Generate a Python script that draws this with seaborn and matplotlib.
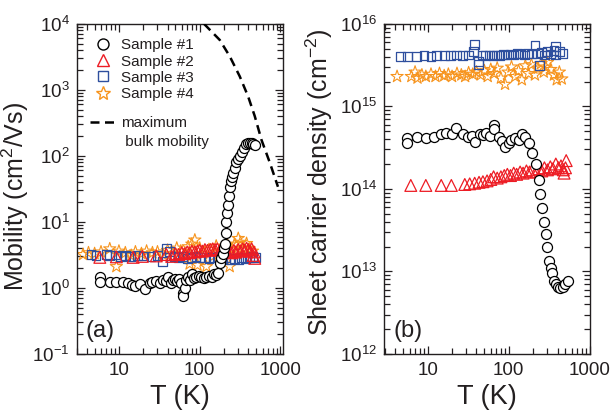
import numpy as np
import matplotlib
matplotlib.use("Agg")
import matplotlib.pyplot as plt
import matplotlib.ticker as mticker
from matplotlib.lines import Line2D
import seaborn as sns

# ======================================================
# DATA
# ======================================================

# (a) mobility, cm^2/Vs
t1_mu = [5.8, 5.8, 7.7, 9.3, 11.2, 13, 14.6, 16, 18, 21, 24, 26, 29, 32, 35,
         38, 41, 44, 47, 50, 53, 56, 59, 62, 62, 65, 68, 72, 75, 80, 85, 91,
         97, 104, 112, 121, 130, 140, 150, 160, 170, 177, 185, 192, 198, 204,
         209, 214, 219, 225, 231, 236, 242, 248, 259, 270, 285, 300, 313, 330,
         350, 379, 400, 420, 440, 460, 478]
mu1 = [1.48, 1.24, 1.23, 1.24, 1.24, 1.17, 1.1, 1.05, 1.15, 0.97, 1.17, 1.22,
       1.28, 1.2, 1.32, 1.25, 1.45, 1.2, 1.3, 1.38, 1.25, 1.35, 1.2, 0.83,
       0.74, 1.0, 1.3, 1.45, 1.31, 1.6, 1.4, 1.48, 1.5, 1.45, 1.4, 1.48, 1.5,
       1.45, 1.6, 1.55, 1.7, 2.4, 2.8, 3.3, 4.0, 4.7, 6.8, 10, 13.5, 18, 25,
       34, 42, 48, 55, 65, 80, 90, 98, 115, 130, 150, 155, 158, 155, 150, 145]

t2_mu = [5.8, 9.3, 15, 19.5, 29, 38.7, 45, 50, 55, 60, 65, 70, 75, 80, 87, 94,
         100, 108, 116, 125, 135, 145, 155, 165, 178, 190, 205, 220, 235, 250,
         265, 280, 300, 320, 340, 360, 380, 400, 420, 440, 458, 480, 470]
mu2 = [2.9, 2.95, 2.9, 3.0, 3.05, 3.2, 3.0, 3.3, 3.2, 3.4, 3.3, 3.5, 3.4, 3.6,
       3.5, 3.6, 3.7, 3.6, 3.8, 3.7, 3.8, 3.9, 3.8, 3.9, 3.7, 3.9, 3.8, 3.5,
       3.6, 3.4, 3.7, 3.5, 3.8, 3.6, 3.9, 3.7, 4.0, 3.8, 3.6, 3.9, 3.1, 2.8, 3.5]

t3_mu = [4.5, 5.2, 7, 7.6, 9, 10.5, 12, 14, 17, 20, 25, 30, 35, 38.7, 42, 48,
         55, 62, 70, 80, 90, 100, 115, 130, 150, 170, 190, 210, 240, 270, 300,
         330, 370, 410, 450, 490]
mu3 = [3.2, 3.1, 3.2, 3.1, 3.15, 3.0, 3.1, 3.0, 3.1, 3.05, 3.0, 3.1, 2.5, 3.9,
       3.6, 3.0, 2.9, 3.0, 2.8, 2.9, 3.0, 2.85, 2.9, 2.8, 2.9, 3.0, 2.8, 2.9,
       2.7, 2.8, 2.7, 2.9, 2.8, 2.9, 3.0, 2.85]

t4_mu = [3.6, 4.2, 5, 6, 7.7, 9.3, 10, 12, 14.2, 16, 19, 22, 26, 30, 35, 40,
         46, 52, 58, 65, 72, 75, 80, 87, 94, 100, 110, 121, 130, 145, 160, 180,
         200, 220, 235, 250, 270, 290, 300, 320, 350, 380, 410, 450]
mu4 = [3.2, 3.4, 3.3, 3.5, 3.9, 2.1, 3.6, 3.4, 3.1, 3.5, 3.3, 3.6, 3.4, 3.5,
       3.2, 3.7, 3.3, 4.0, 3.6, 3.2, 4.2, 2.3, 4.6, 5.3, 2.2, 4.0, 3.3, 2.1,
       3.8, 3.0, 4.3, 3.5, 3.2, 4.5, 2.1, 3.8, 4.6, 3.3, 5.6, 4.9, 4.0, 4.7,
       3.9, 3.6]

t_bulk = [113, 177, 236, 313, 398, 480, 582, 740, 930]
mu_bulk = [1e4, 5700, 3200, 1600, 790, 400, 174, 78, 34]

# (b) sheet carrier density, cm^-2
t1_n = [5.6, 5.6, 7.5, 9.5, 12, 14.7, 17, 20, 22.6, 27, 31, 35, 38, 44, 48,
        53, 58, 66, 66, 75, 82, 91, 100, 108, 120, 133, 146, 160, 178, 196,
        215, 236, 245, 260, 274, 286, 300, 315, 330, 345, 363, 380, 400, 430,
        460, 500, 535]
n1 = [4.1e14, 3.55e14, 4.2e14, 4.1e14, 4.2e14, 4.6e14, 4.7e14, 4.6e14, 5.5e14,
      4.6e14, 4.2e14, 4.4e14, 3.7e14, 4.6e14, 4.5e14, 4.8e14, 4.4e14, 5.9e14,
      5.3e14, 4.3e14, 3.8e14, 3.2e14, 3.6e14, 3.9e14, 4.1e14, 3.9e14, 4.6e14,
      4.3e14, 3.55e14, 2.7e14, 2.0e14, 1.27e14, 8.7e13, 5.8e13, 4.0e13,
      2.8e13, 2.0e13, 1.35e13, 1.1e13, 9.5e12, 7.7e12, 7e12, 6.4e12, 6.2e12,
      6.5e12, 7e12, 7.7e12]

t2_n = [6.2, 9.5, 14.7, 19.6, 28.7, 33, 38, 43, 48, 54, 60, 65, 72, 80, 88, 96,
        105, 115, 125, 138, 150, 165, 180, 195, 215, 235, 255, 275, 300, 325,
        350, 380, 410, 440, 470, 510, 500, 480]
n2 = [1.1e14, 1.1e14, 1.1e14, 1.1e14, 1.13e14, 1.15e14, 1.17e14, 1.2e14,
      1.22e14, 1.25e14, 1.3e14, 1.4e14, 1.35e14, 1.4e14, 1.45e14, 1.5e14,
      1.45e14, 1.55e14, 1.5e14, 1.6e14, 1.55e14, 1.65e14, 1.6e14, 1.7e14,
      1.6e14, 1.75e14, 1.65e14, 1.8e14, 1.7e14, 1.85e14, 1.75e14, 2.0e14,
      1.8e14, 1.9e14, 1.7e14, 2.2e14, 1.8e14, 1.55e14]

t3_n = [4.6, 5.6, 7.3, 9, 11, 13, 16, 19, 22.6, 27, 32, 36.5, 37.6, 42, 42, 47,
        52, 58, 64, 70, 78, 86, 95, 105, 115, 128, 140, 155, 170, 190, 210,
        225, 237, 255, 275, 300, 330, 360, 380, 380, 420, 460]
n3 = [4.0e15, 4.0e15, 4.0e15, 4.1e15, 4.0e15, 4.1e15, 4.15e15, 4.1e15, 4.2e15,
      4.15e15, 4.2e15, 4.6e15, 5.6e15, 3.5e15, 3.2e15, 4.2e15, 4.1e15, 4.2e15,
      4.15e15, 4.2e15, 4.1e15, 4.25e15, 4.2e15, 4.3e15, 4.2e15, 4.35e15,
      4.3e15, 4.2e15, 4.4e15, 4.3e15, 5.5e15, 4.4e15, 3.1e15, 4.5e15, 4.2e15,
      4.6e15, 4.3e15, 4.8e15, 5.3e15, 4.2e15, 4.6e15, 4.4e15]

t4_n = [4.2, 6.3, 7, 7.5, 8.5, 9.5, 11, 12.5, 14, 16, 18, 20, 23, 26, 29, 32,
        36, 40, 45, 50, 55, 60, 66, 72, 80, 90, 98, 108, 120, 132, 145, 160,
        175, 190, 210, 230, 250, 270, 285, 300, 330, 360, 390, 420, 450]
n4 = [2.3e15, 2.3e15, 2.6e15, 2.2e15, 2.4e15, 2.3e15, 2.45e15, 2.3e15, 2.5e15,
      2.35e15, 2.45e15, 2.3e15, 2.5e15, 2.4e15, 2.3e15, 2.55e15, 2.45e15,
      2.6e15, 2.4e15, 2.7e15, 2.3e15, 2.8e15, 2.5e15, 2.9e15, 2.2e15, 1.85e15,
      2.6e15, 3.0e15, 2.3e15, 2.7e15, 2.1e15, 3.1e15, 2.5e15, 3.2e15, 2.4e15,
      2.9e15, 3.3e15, 2.6e15, 3.0e15, 3.4e15, 2.8e15, 2.4e15, 2.1e15, 2.6e15,
      2.15e15]

labels = ["Sample #1", "Sample #2", "Sample #3", "Sample #4"]
bulk_labels = ["maximum", " bulk mobility"]
x_ticks = [10, 100, 1000]
x_tick_labels = ["10", "100", "1000"]

# ======================================================
# STYLE
# ======================================================

sns.set_theme(style="ticks")
plt.rcParams["font.family"] = ["Liberation Sans", "DejaVu Sans"]
plt.rcParams["mathtext.fontset"] = "custom"
plt.rcParams["mathtext.rm"] = "Liberation Sans"
plt.rcParams["mathtext.it"] = "Liberation Sans:italic"
plt.rcParams["text.color"] = "#231f20"
plt.rcParams["axes.labelcolor"] = "#231f20"
plt.rcParams["xtick.color"] = "#231f20"
plt.rcParams["ytick.color"] = "#231f20"

black = "#000000"
red = "#ed1c24"
blue = "#2e4f9e"
orange = "#f7941d"
dash = (0, (3.6, 2.2))

# marker style per sample: (marker, size, face, edge, lw)
styles = {
    "Sample #1": ("o", 52, "white", black, 0.9),
    "Sample #2": ("^", 72, "none", red, 0.9),
    "Sample #3": ("s", 40, "none", blue, 0.9),
    "Sample #4": ("*", 85, "none", orange, 0.8),
}

fig = plt.figure(figsize=(6.11, 4.11), dpi=100)
ax_a = fig.add_axes([0.1255, 0.139, 0.338, 0.803])
ax_b = fig.add_axes([0.6285, 0.139, 0.337, 0.803])


def draw(ax, name, t, v, z):
    m, s, fc, ec, lw = styles[name]
    sns.scatterplot(x=t, y=v, ax=ax, marker=m, s=s, facecolor=fc,
                    edgecolor=ec, linewidth=lw, zorder=z, legend=False)


# ======================================================
# (a) MOBILITY
# ======================================================

draw(ax_a, "Sample #4", t4_mu, mu4, 2)
draw(ax_a, "Sample #3", t3_mu, mu3, 3)
draw(ax_a, "Sample #2", t2_mu, mu2, 4)
draw(ax_a, "Sample #1", t1_mu, mu1, 5)
sns.lineplot(x=t_bulk, y=mu_bulk, ax=ax_a, color=black, lw=1.8,
             linestyle=dash, sort=False, zorder=6)

ax_a.set_xscale("log")
ax_a.set_yscale("log")
ax_a.set_xlim(3.0, 1080)
ax_a.set_ylim(1e-1, 1e4)
ax_a.set_ylabel("Mobility (cm$^2$/Vs)", fontsize=18)
ax_a.yaxis.set_label_coords(-0.222, 0.477)
ax_a.text(0.045, 0.05, "(a)", transform=ax_a.transAxes, fontsize=17)

handles = []
for name in labels:
    m, s, fc, ec, lw = styles[name]
    handles.append(Line2D([], [], linestyle="none", marker=m,
                          markersize=np.sqrt(s) * 1.1, markerfacecolor="none",
                          markeredgecolor=ec, markeredgewidth=1.0))
leg_kw = dict(loc="upper left", frameon=False, fontsize=11, handlelength=1.65,
              handletextpad=0.38, borderpad=0.2, borderaxespad=0)
leg1 = ax_a.legend(handles, labels, bbox_to_anchor=(0.05, 0.965),
                   labelspacing=0.14, **leg_kw)
ax_a.add_artist(leg1)
bulk_handles = [Line2D([], [], color=black, lw=1.8, linestyle=dash),
                Line2D([], [], linestyle="none")]
ax_a.legend(bulk_handles, bulk_labels, bbox_to_anchor=(0.05, 0.73),
            labelspacing=0.33, **leg_kw)

# ======================================================
# (b) SHEET CARRIER DENSITY
# ======================================================

draw(ax_b, "Sample #4", t4_n, n4, 2)
draw(ax_b, "Sample #3", t3_n, n3, 3)
draw(ax_b, "Sample #2", t2_n, n2, 4)
draw(ax_b, "Sample #1", t1_n, n1, 5)

ax_b.set_xscale("log")
ax_b.set_yscale("log")
ax_b.set_xlim(2.9, 1000)
ax_b.set_ylim(1e12, 1e16)
ax_b.set_ylabel("Sheet carrier density (cm$^{-2}$)", fontsize=18)
ax_b.yaxis.set_label_coords(-0.238, 0.52)
ax_b.text(0.045, 0.05, "(b)", transform=ax_b.transAxes, fontsize=17)

# ======================================================
# AXES COMMON
# ======================================================

for ax in (ax_a, ax_b):
    ax.set_xlabel("T (K)", fontsize=19.5, labelpad=4)
    ax.set_xticks(x_ticks)
    ax.set_xticklabels(x_tick_labels)
    ax.xaxis.set_minor_locator(mticker.LogLocator(base=10, subs=np.arange(2, 10), numticks=20))
    ax.xaxis.set_minor_formatter(mticker.NullFormatter())
    ax.yaxis.set_major_locator(mticker.LogLocator(base=10, numticks=20))
    ax.yaxis.set_minor_locator(mticker.LogLocator(base=10, subs=np.arange(2, 10), numticks=20))
    ax.yaxis.set_minor_formatter(mticker.NullFormatter())
    ax.tick_params(which="both", direction="in", top=True, right=True,
                   width=0.9, labelsize=13.5)
    ax.tick_params(axis="x", which="both", pad=5.5)
    ax.tick_params(axis="y", which="both", pad=5)
    ax.tick_params(which="major", length=6)
    ax.tick_params(which="minor", length=4, width=0.9)
    for sp in ax.spines.values():
        sp.set_linewidth(1.0)
        sp.set_color("#231f20")

fig.savefig("out.png", dpi=100)
